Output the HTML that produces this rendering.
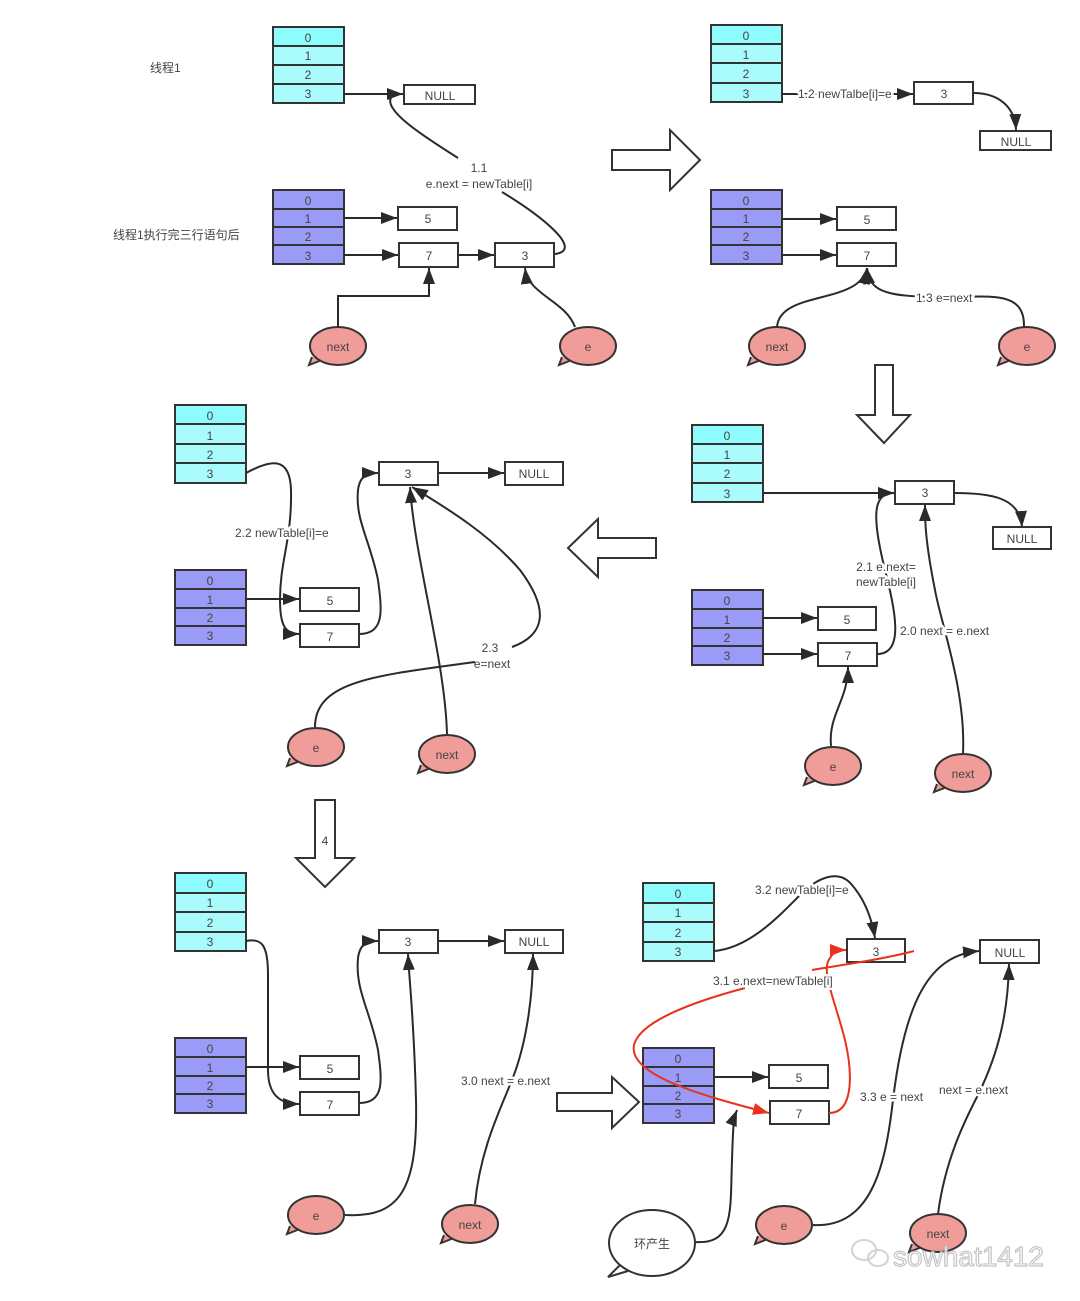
<!DOCTYPE html>
<html><head><meta charset="utf-8"><style>
html,body{margin:0;padding:0;background:#fff;}
svg{display:block;}
text{font-family:"Liberation Sans","Noto Sans CJK SC",sans-serif;font-size:12px;fill:#444;}
.c{text-anchor:middle;}
.l{paint-order:stroke;stroke:#fff;stroke-width:5px;stroke-linejoin:round;}
.box{fill:#fff;stroke:#333;stroke-width:2;}
.cy0{fill:#8efcfc;stroke:#333;stroke-width:2;}
.cy{fill:#aafcfc;stroke:#333;stroke-width:2;}
.pu{fill:#9a9af7;stroke:#333;stroke-width:2;}
.ln{fill:none;stroke:#2a2a2a;stroke-width:2;}
.rd{fill:none;stroke:#e8321e;stroke-width:2;}
.bub{fill:#f09c98;stroke:#333;stroke-width:2;}
.big{fill:#fff;stroke:#333;stroke-width:2;}
</style></head><body>
<svg width="1080" height="1301" viewBox="0 0 1080 1301" xmlns="http://www.w3.org/2000/svg">
<defs>
<marker id="a" viewBox="0 0 10 10" refX="10" refY="5" markerWidth="10" markerHeight="10" markerUnits="userSpaceOnUse" orient="auto"><path d="M0,0L10,5L0,10z" fill="#2a2a2a" transform="scale(1)"/></marker>
<marker id="A" viewBox="0 0 16 12" refX="16" refY="6" markerWidth="16" markerHeight="12" markerUnits="userSpaceOnUse" orient="auto"><path d="M0,0L16,6L0,12z" fill="#2a2a2a"/></marker>
<marker id="R" viewBox="0 0 16 12" refX="16" refY="6" markerWidth="16" markerHeight="12" markerUnits="userSpaceOnUse" orient="auto"><path d="M0,0L16,6L0,12z" fill="#e8321e"/></marker>
</defs>

<!-- ===== Panel 1 ===== -->
<text x="150" y="72">线程1</text>
<text x="113" y="239">线程1执行完三行语句后</text>
<g>
<rect class="cy0" x="273" y="27" width="71" height="19"/><rect class="cy" x="273" y="46" width="71" height="19"/><rect class="cy" x="273" y="65" width="71" height="19"/><rect class="cy" x="273" y="84" width="71" height="19"/>
<text class="c" x="308" y="42">0</text><text class="c" x="308" y="60">1</text><text class="c" x="308" y="79">2</text><text class="c" x="308" y="98">3</text>
</g>
<rect class="box" x="404" y="85" width="71" height="19"/><text class="c" x="440" y="100">NULL</text>
<line class="ln" x1="344" y1="94" x2="403" y2="94" marker-end="url(#A)"/>
<path class="ln" d="M392,96 C380,110 430,140 458,158"/>
<path class="ln" d="M502,192 C540,215 585,250 555,254"/>
<text class="c" x="479" y="172">1.1</text>
<text class="c" x="479" y="188">e.next = newTable[i]</text>
<g>
<rect class="pu" x="273" y="190" width="71" height="19"/><rect class="pu" x="273" y="209" width="71" height="18"/><rect class="pu" x="273" y="227" width="71" height="18"/><rect class="pu" x="273" y="245" width="71" height="19"/>
<text class="c" x="308" y="205">0</text><text class="c" x="308" y="223">1</text><text class="c" x="308" y="241">2</text><text class="c" x="308" y="260">3</text>
</g>
<rect class="box" x="398" y="207" width="59" height="23"/><text class="c" x="428" y="223">5</text>
<rect class="box" x="399" y="243" width="59" height="24"/><text class="c" x="429" y="260">7</text>
<rect class="box" x="495" y="243" width="59" height="24"/><text class="c" x="525" y="260">3</text>
<line class="ln" x1="344" y1="218" x2="397" y2="218" marker-end="url(#A)"/>
<line class="ln" x1="344" y1="255" x2="398" y2="255" marker-end="url(#A)"/>
<line class="ln" x1="458" y1="255" x2="494" y2="255" marker-end="url(#A)"/>
<path class="ln" d="M338,327 L338,296 L429,296 L429,268" marker-end="url(#A)"/>
<path class="ln" d="M575,327 C565,300 528,295 525,268" marker-end="url(#A)"/>
<path class="bub" d="M312,357 L309,365 L322,360"/>
<ellipse class="bub" cx="338" cy="346" rx="28" ry="19"/><text class="c" x="338" y="351">next</text>
<path class="bub" d="M562,357 L559,365 L572,360"/>
<ellipse class="bub" cx="588" cy="346" rx="28" ry="19"/><text class="c" x="588" y="351">e</text>

<polygon class="big" points="612,150 670,150 670,130 700,160 670,190 670,170 612,170"/>

<!-- ===== Panel 2 ===== -->
<g>
<rect class="cy0" x="711" y="25" width="71" height="19"/><rect class="cy" x="711" y="44" width="71" height="19"/><rect class="cy" x="711" y="63" width="71" height="20"/><rect class="cy" x="711" y="83" width="71" height="19"/>
<text class="c" x="746" y="40">0</text><text class="c" x="746" y="59">1</text><text class="c" x="746" y="78">2</text><text class="c" x="746" y="98">3</text>
</g>
<line class="ln" x1="782" y1="94" x2="913" y2="94" marker-end="url(#A)"/>
<text class="l" x="798" y="98">1.2 newTalbe[i]=e</text>
<rect class="box" x="914" y="82" width="59" height="22"/><text class="c" x="944" y="98">3</text>
<path class="ln" d="M973,93 C1000,93 1015,108 1016,130" marker-end="url(#A)"/>
<rect class="box" x="980" y="131" width="71" height="19"/><text class="c" x="1016" y="146">NULL</text>
<g>
<rect class="pu" x="711" y="190" width="71" height="19"/><rect class="pu" x="711" y="209" width="71" height="18"/><rect class="pu" x="711" y="227" width="71" height="18"/><rect class="pu" x="711" y="245" width="71" height="19"/>
<text class="c" x="746" y="205">0</text><text class="c" x="746" y="223">1</text><text class="c" x="746" y="241">2</text><text class="c" x="746" y="260">3</text>
</g>
<rect class="box" x="837" y="207" width="59" height="23"/><text class="c" x="867" y="224">5</text>
<rect class="box" x="837" y="243" width="59" height="23"/><text class="c" x="867" y="260">7</text>
<line class="ln" x1="782" y1="219" x2="836" y2="219" marker-end="url(#A)"/>
<line class="ln" x1="782" y1="255" x2="836" y2="255" marker-end="url(#A)"/>
<path class="ln" d="M777,327 C780,290 860,305 867,268" marker-end="url(#A)"/>
<path class="ln" d="M1024,327 C1025,290 990,297 945,297 C880,297 870,290 867,268" marker-end="url(#A)"/>
<text class="l" x="916" y="302">1.3 e=next</text>
<path class="bub" d="M751,357 L748,365 L761,360"/>
<ellipse class="bub" cx="777" cy="346" rx="28" ry="19"/><text class="c" x="777" y="351">next</text>
<path class="bub" d="M1001,357 L998,365 L1011,360"/>
<ellipse class="bub" cx="1027" cy="346" rx="28" ry="19"/><text class="c" x="1027" y="351">e</text>

<polygon class="big" points="875,365 893,365 893,415 910,415 884,443 857,415 875,415"/>

<!-- ===== Panel 3 ===== -->
<g>
<rect class="cy0" x="692" y="425" width="71" height="19"/><rect class="cy" x="692" y="444" width="71" height="19"/><rect class="cy" x="692" y="463" width="71" height="20"/><rect class="cy" x="692" y="483" width="71" height="19"/>
<text class="c" x="727" y="440">0</text><text class="c" x="727" y="459">1</text><text class="c" x="727" y="478">2</text><text class="c" x="727" y="498">3</text>
</g>
<line class="ln" x1="763" y1="493" x2="894" y2="493" marker-end="url(#A)"/>
<rect class="box" x="895" y="481" width="59" height="23"/><text class="c" x="925" y="497">3</text>
<path class="ln" d="M954,493 C990,493 1020,497 1022,527" marker-end="url(#A)"/>
<rect class="box" x="993" y="527" width="58" height="22"/><text class="c" x="1022" y="543">NULL</text>
<g>
<rect class="pu" x="692" y="590" width="71" height="19"/><rect class="pu" x="692" y="609" width="71" height="19"/><rect class="pu" x="692" y="628" width="71" height="18"/><rect class="pu" x="692" y="646" width="71" height="19"/>
<text class="c" x="727" y="605">0</text><text class="c" x="727" y="624">1</text><text class="c" x="727" y="642">2</text><text class="c" x="727" y="660">3</text>
</g>
<rect class="box" x="818" y="607" width="58" height="23"/><text class="c" x="847" y="624">5</text>
<rect class="box" x="818" y="643" width="59" height="23"/><text class="c" x="848" y="660">7</text>
<line class="ln" x1="763" y1="618" x2="817" y2="618" marker-end="url(#A)"/>
<line class="ln" x1="763" y1="654" x2="817" y2="654" marker-end="url(#A)"/>
<path class="ln" d="M877,654 C905,654 895,610 885,570 C870,510 875,493 894,493" marker-end="url(#A)"/>
<path class="ln" d="M831,746 C828,715 848,700 848,667" marker-end="url(#A)"/>
<path class="ln" d="M963,753 C966,690 940,620 935,590 C925,540 925,520 925,505" marker-end="url(#A)"/>
<text class="l c" x="886" y="571">2.1 e.next=</text>
<text class="l c" x="886" y="586">newTable[i]</text>
<text class="l" x="900" y="635">2.0 next = e.next</text>
<path class="bub" d="M807,777 L804,785 L817,780"/>
<ellipse class="bub" cx="833" cy="766" rx="28" ry="19"/><text class="c" x="833" y="771">e</text>
<path class="bub" d="M937,784 L934,792 L947,787"/>
<ellipse class="bub" cx="963" cy="773" rx="28" ry="19"/><text class="c" x="963" y="778">next</text>

<polygon class="big" points="656,538 598,538 598,519 568,548 598,577 598,558 656,558"/>

<!-- ===== Panel 4 ===== -->
<g>
<rect class="cy0" x="175" y="405" width="71" height="19"/><rect class="cy" x="175" y="424" width="71" height="20"/><rect class="cy" x="175" y="444" width="71" height="19"/><rect class="cy" x="175" y="463" width="71" height="20"/>
<text class="c" x="210" y="420">0</text><text class="c" x="210" y="440">1</text><text class="c" x="210" y="459">2</text><text class="c" x="210" y="478">3</text>
</g>
<path class="ln" d="M246,473 C270,460 290,455 291,490 C292,540 280,560 280,600 C280,625 285,634 299,634" marker-end="url(#A)"/>
<text class="l" x="235" y="537">2.2 newTable[i]=e</text>
<g>
<rect class="pu" x="175" y="570" width="71" height="19"/><rect class="pu" x="175" y="589" width="71" height="19"/><rect class="pu" x="175" y="608" width="71" height="18"/><rect class="pu" x="175" y="626" width="71" height="19"/>
<text class="c" x="210" y="585">0</text><text class="c" x="210" y="604">1</text><text class="c" x="210" y="622">2</text><text class="c" x="210" y="640">3</text>
</g>
<rect class="box" x="300" y="588" width="59" height="23"/><text class="c" x="330" y="605">5</text>
<rect class="box" x="300" y="624" width="59" height="23"/><text class="c" x="330" y="641">7</text>
<line class="ln" x1="246" y1="599" x2="299" y2="599" marker-end="url(#A)"/>
<rect class="box" x="379" y="462" width="59" height="23"/><text class="c" x="408" y="478">3</text>
<rect class="box" x="505" y="462" width="58" height="23"/><text class="c" x="534" y="478">NULL</text>
<line class="ln" x1="438" y1="473" x2="504" y2="473" marker-end="url(#A)"/>
<path class="ln" d="M359,634 C385,634 382,610 378,580 C370,540 355,520 358,490 C360,475 368,473 378,473" marker-end="url(#A)"/>
<path class="ln" d="M447,734 C445,660 415,560 410,487" marker-end="url(#A)"/>
<path class="ln" d="M315,727 C315,680 380,675 475,662"/>
<path class="ln" d="M512,647 C545,635 550,610 520,570 C490,535 450,510 412,487" marker-end="url(#A)"/>
<text class="c" x="490" y="652">2.3</text>
<text class="c" x="492" y="668">e=next</text>
<path class="bub" d="M290,758 L287,766 L300,761"/>
<ellipse class="bub" cx="316" cy="747" rx="28" ry="19"/><text class="c" x="316" y="752">e</text>
<path class="bub" d="M421,765 L418,773 L431,768"/>
<ellipse class="bub" cx="447" cy="754" rx="28" ry="19"/><text class="c" x="447" y="759">next</text>

<polygon class="big" points="315,800 335,800 335,858 354,858 325,887 296,858 315,858"/>
<text class="c" x="325" y="845">4</text>

<!-- ===== Panel 5 ===== -->
<g>
<rect class="cy0" x="175" y="873" width="71" height="20"/><rect class="cy" x="175" y="893" width="71" height="19"/><rect class="cy" x="175" y="912" width="71" height="20"/><rect class="cy" x="175" y="932" width="71" height="19"/>
<text class="c" x="210" y="888">0</text><text class="c" x="210" y="907">1</text><text class="c" x="210" y="927">2</text><text class="c" x="210" y="946">3</text>
</g>
<path class="ln" d="M246,941 C262,938 268,945 268,975 L268,1070 C268,1095 280,1104 299,1104" marker-end="url(#A)"/>
<g>
<rect class="pu" x="175" y="1038" width="71" height="19"/><rect class="pu" x="175" y="1057" width="71" height="19"/><rect class="pu" x="175" y="1076" width="71" height="18"/><rect class="pu" x="175" y="1094" width="71" height="19"/>
<text class="c" x="210" y="1053">0</text><text class="c" x="210" y="1072">1</text><text class="c" x="210" y="1090">2</text><text class="c" x="210" y="1108">3</text>
</g>
<rect class="box" x="300" y="1056" width="59" height="23"/><text class="c" x="330" y="1073">5</text>
<rect class="box" x="300" y="1092" width="59" height="23"/><text class="c" x="330" y="1109">7</text>
<line class="ln" x1="246" y1="1067" x2="299" y2="1067" marker-end="url(#A)"/>
<rect class="box" x="379" y="930" width="59" height="23"/><text class="c" x="408" y="946">3</text>
<rect class="box" x="505" y="930" width="58" height="23"/><text class="c" x="534" y="946">NULL</text>
<line class="ln" x1="438" y1="941" x2="504" y2="941" marker-end="url(#A)"/>
<path class="ln" d="M359,1103 C385,1103 382,1080 378,1050 C370,1010 355,990 358,958 C360,943 368,941 378,941" marker-end="url(#A)"/>
<path class="ln" d="M345,1215 C400,1218 418,1190 416,1100 C414,1020 410,990 408,954" marker-end="url(#A)"/>
<path class="ln" d="M475,1204 C480,1150 500,1110 512,1080 C528,1040 533,990 533,954" marker-end="url(#A)"/>
<text class="l" x="461" y="1085">3.0 next = e.next</text>
<path class="bub" d="M290,1226 L287,1234 L300,1229"/>
<ellipse class="bub" cx="316" cy="1215" rx="28" ry="19"/><text class="c" x="316" y="1220">e</text>
<path class="bub" d="M444,1235 L441,1243 L454,1238"/>
<ellipse class="bub" cx="470" cy="1224" rx="28" ry="19"/><text class="c" x="470" y="1229">next</text>

<polygon class="big" points="557,1093 612,1093 612,1077 639,1102 612,1128 612,1111 557,1111"/>

<!-- ===== Panel 6 ===== -->
<g>
<rect class="cy0" x="643" y="883" width="71" height="20"/><rect class="cy" x="643" y="903" width="71" height="19"/><rect class="cy" x="643" y="922" width="71" height="20"/><rect class="cy" x="643" y="942" width="71" height="19"/>
<text class="c" x="678" y="898">0</text><text class="c" x="678" y="917">1</text><text class="c" x="678" y="937">2</text><text class="c" x="678" y="956">3</text>
</g>
<path class="ln" d="M714,951 C750,948 780,915 800,895 C820,875 840,870 852,885 C865,900 872,920 875,938" marker-end="url(#A)"/>
<text class="l" x="755" y="894">3.2 newTable[i]=e</text>
<rect class="box" x="847" y="939" width="58" height="23"/><text class="c" x="876" y="956">3</text>
<rect class="box" x="980" y="940" width="59" height="23"/><text class="c" x="1010" y="957">NULL</text>
<g>
<rect class="pu" x="643" y="1048" width="71" height="19"/><rect class="pu" x="643" y="1067" width="71" height="19"/><rect class="pu" x="643" y="1086" width="71" height="18"/><rect class="pu" x="643" y="1104" width="71" height="19"/>
<text class="c" x="678" y="1063">0</text><text class="c" x="678" y="1082">1</text><text class="c" x="678" y="1100">2</text><text class="c" x="678" y="1118">3</text>
</g>
<rect class="box" x="769" y="1065" width="59" height="23"/><text class="c" x="799" y="1082">5</text>
<rect class="box" x="770" y="1101" width="59" height="23"/><text class="c" x="799" y="1118">7</text>
<line class="ln" x1="714" y1="1077" x2="768" y2="1077" marker-end="url(#A)"/>
<!-- red -->
<path class="rd" d="M914,951 C880,960 840,965 812,970"/>
<path class="rd" d="M745,988 C700,1000 640,1020 634,1045 C628,1075 700,1095 769,1113" marker-end="url(#R)"/>
<path class="rd" d="M829,1113 C855,1113 852,1070 845,1040 C835,1000 820,970 830,958 C835,950 840,950 846,950" marker-end="url(#R)"/>
<text class="l" x="713" y="985">3.1 e.next=newTable[i]</text>
<!-- black -->
<path class="ln" d="M695,1242 C735,1245 730,1210 732,1160 C733,1130 733,1120 737,1110" marker-end="url(#A)"/>
<path class="ln" d="M813,1225 C870,1228 885,1170 893,1100 C905,1000 930,955 979,951" marker-end="url(#A)"/>
<path class="ln" d="M938,1214 C945,1160 965,1120 978,1095 C1000,1050 1008,1010 1009,964" marker-end="url(#A)"/>
<text class="l" x="860" y="1101">3.3 e = next</text>
<text class="l" x="939" y="1094">next = e.next</text>
<path class="big" d="M620,1265 L608,1277 L628,1271"/>
<ellipse class="big" cx="652" cy="1243" rx="43" ry="33"/><text class="c" x="652" y="1248">环产生</text>
<path class="bub" d="M758,1236 L755,1244 L768,1239"/>
<ellipse class="bub" cx="784" cy="1225" rx="28" ry="19"/><text class="c" x="784" y="1230">e</text>
<path class="bub" d="M912,1244 L909,1252 L922,1247"/>
<ellipse class="bub" cx="938" cy="1233" rx="28" ry="19"/><text class="c" x="938" y="1238">next</text>

<!-- watermark -->
<g opacity="0.85">
<ellipse cx="864" cy="1250" rx="12" ry="10" fill="none" stroke="#ccc" stroke-width="2"/>
<ellipse cx="878" cy="1258" rx="10" ry="8" fill="none" stroke="#ccc" stroke-width="2"/>
<text x="893" y="1266" style="font-size:28px;fill:#fff;stroke:#bbb;stroke-width:1.2px;">sowhat1412</text>
</g>
</svg>
</body></html>
